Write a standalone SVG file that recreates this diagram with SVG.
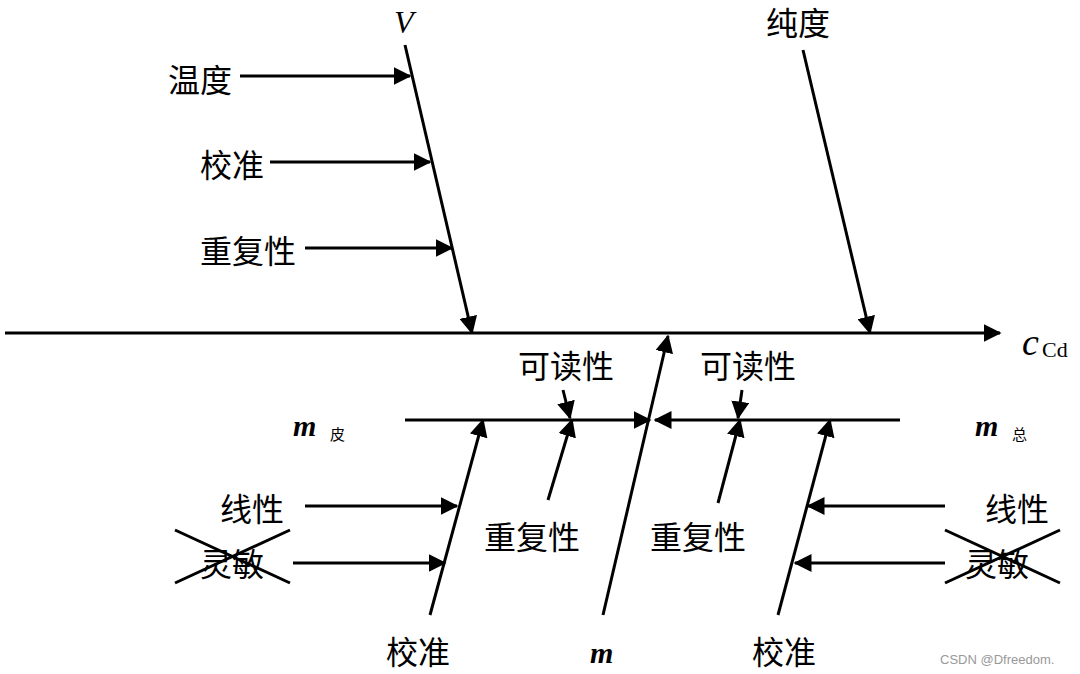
<svg xmlns="http://www.w3.org/2000/svg" width="1080" height="674" viewBox="0 0 1080 674">
<style>
.l{stroke:#000;stroke-width:3;fill:none}
.a{stroke:#000;stroke-width:3;fill:none;marker-end:url(#ah)}
.t{font-family:"Noto Sans CJK SC","Liberation Serif",serif;font-size:32px;fill:#000}
.s{font-family:"Noto Sans CJK SC",serif;font-size:15px;fill:#000}
.m{font-family:"Liberation Serif",serif;font-style:italic;font-weight:bold;font-size:30px;fill:#000}
</style>
<defs><marker id="ah" markerWidth="6" markerHeight="6" refX="5.5" refY="3" orient="auto" markerUnits="strokeWidth"><path d="M0,0 L6,3 L0,6 z" fill="#000"/></marker></defs>
<rect width="1080" height="674" fill="#fff"/>
<g id="connectors">
<path class="a" d="M5,333 H1000"/>
<path class="a" d="M405,45 L472,333"/>
<path class="a" d="M803,50 L870,333"/>
<path class="a" d="M240,76 H410"/>
<path class="a" d="M270,162 H430"/>
<path class="a" d="M305,248 H452"/>
<path class="a" d="M603,615 L668,336"/>
<path class="a" d="M405,420 H650"/>
<path class="a" d="M900,420 H655"/>
<path class="a" d="M430,615 L483,420"/>
<path class="a" d="M778,615 L830,420"/>
<path class="a" d="M563,390 L570,418"/>
<path class="a" d="M742,390 L738,418"/>
<path class="a" d="M548,500 L572,420"/>
<path class="a" d="M718,503 L740,420"/>
<path class="a" d="M305,506 H457"/>
<path class="a" d="M293,563 H445"/>
<path class="a" d="M945,506 H808"/>
<path class="a" d="M945,563 H795"/>
<path class="l" d="M175,530 L290,583 M175,583 L290,530 M945,530 L1060,583 M945,583 L1060,530"/>
</g>
<g id="V"><text x="394" y="33" font-family="Liberation Serif" font-style="italic" font-size="32">V</text></g>
<g id="purity"><text class="t" x="766" y="35">纯度</text></g>
<g id="temp"><text class="t" x="168" y="92">温度</text></g>
<g id="calib1"><text class="t" x="200" y="177">校准</text></g>
<g id="rep1"><text class="t" x="200" y="263">重复性</text></g>
<g id="cCd"><text x="1022" y="355" font-family="Liberation Serif" font-style="italic" font-size="38">c</text><text x="1042" y="357" font-family="Liberation Serif" font-size="22">Cd</text></g>
<g id="read1"><text class="t" x="518" y="378">可读性</text></g>
<g id="read2"><text class="t" x="700" y="378">可读性</text></g>
<g id="mpi"><text class="m" x="293" y="436">m</text><text class="s" x="330" y="440">皮</text></g>
<g id="mzong"><text class="m" x="975" y="436">m</text><text class="s" x="1012" y="440">总</text></g>
<g id="lin1"><text class="t" x="220" y="521">线性</text></g>
<g id="sens1"><text class="t" x="200" y="576">灵敏</text></g>
<g id="lin2"><text class="t" x="985" y="521">线性</text></g>
<g id="sens2"><text class="t" x="965" y="576">灵敏</text></g>
<g id="rep2"><text class="t" x="484" y="549">重复性</text></g>
<g id="rep3"><text class="t" x="650" y="549">重复性</text></g>
<g id="calib2"><text class="t" x="386" y="664">校准</text></g>
<g id="calib3"><text class="t" x="752" y="664">校准</text></g>
<g id="m"><text class="m" x="590" y="663">m</text></g>
<text x="940" y="664" font-family="Liberation Sans,sans-serif" font-size="13" fill="#999">CSDN @Dfreedom.</text>
</svg>
